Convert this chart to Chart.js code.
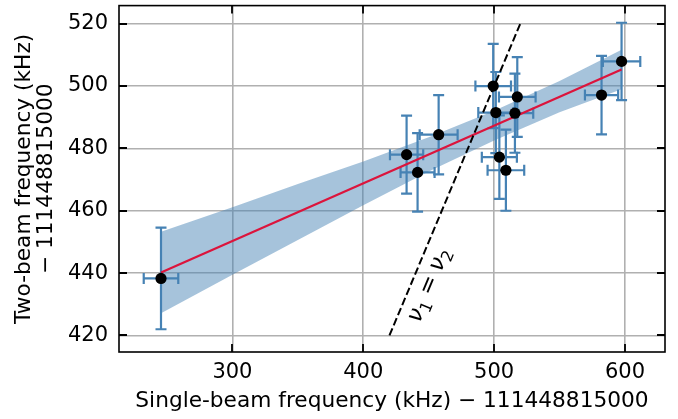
<!DOCTYPE html>
<html>
<head>
<meta charset="utf-8">
<script src="https://cdn.jsdelivr.net/npm/chart.js@4.4.1/dist/chart.umd.min.js"></script>
<style>
  html, body { margin: 0; padding: 0; background: #fff; }
  canvas { display: block; }
</style>
</head>
<body>
<canvas id="chart" width="678" height="419"></canvas>
<script>
// measurements (kHz, offsets from 111448815000)
const singleBeam = [245.4, 433.1, 441.5, 457.6, 499.3, 501.3, 504.0, 509.0, 517.7, 515.9, 582.1, 597.4];
const twoBeam    = [438.3, 478.0, 472.3, 484.4, 500.0, 491.5, 477.2, 473.0, 496.5, 491.3, 497.1, 507.9];
const singleErr  = [13.2, 12.7, 13.0, 14.5, 13.6, 13.4, 13.4, 14.0, 14.0, 14.0, 12.7, 14.3];
const twoErr     = [16.3, 12.5, 12.6, 12.7, 13.5, 13.0, 13.4, 13.0, 12.8, 12.7, 12.6, 12.4];

// linear fit and its uncertainty band
const fitX = [245.4, 597.4];
const fitY = [440.2, 505.3];
const bandX     = [245.4, 300, 350, 400, 450, 500, 550, 597.4];
const bandUpper = [453.3, 461.1, 468.6, 475.8, 483.6, 492.1, 501.6, 511.6];
const bandLower = [427.1, 439.5, 450.6, 461.8, 472.6, 482.5, 491.6, 499.0];

// nu1 = nu2 reference line
const diagX = [420, 520];
const diagY = [420, 520];
const diagLabelAt = [451.0, 436.0];

const xTicks = [300, 400, 500, 600];
const yTicks = [420, 440, 460, 480, 500, 520];

const toPts = (xs, ys) => xs.map((v, i) => ({ x: v, y: ys[i] }));

const errorBars = {
  id: 'errorBars',
  afterDatasetDraw(chart, args) {
    if (chart.data.datasets[args.index].label !== 'band upper') return;
    const { ctx, scales: { x, y } } = chart;
    const cap = 5.5;
    ctx.save();
    ctx.strokeStyle = '#4682b4';
    ctx.lineWidth = 2.2;
    singleBeam.forEach((xv, i) => {
      const px = x.getPixelForValue(xv), py = y.getPixelForValue(twoBeam[i]);
      const xl = x.getPixelForValue(xv - singleErr[i]), xr = x.getPixelForValue(xv + singleErr[i]);
      const yt = y.getPixelForValue(twoBeam[i] + twoErr[i]), yb = y.getPixelForValue(twoBeam[i] - twoErr[i]);
      ctx.beginPath();
      ctx.moveTo(px, yt); ctx.lineTo(px, yb);
      ctx.moveTo(xl, py); ctx.lineTo(xr, py);
      ctx.moveTo(px - cap, yt); ctx.lineTo(px + cap, yt);
      ctx.moveTo(px - cap, yb); ctx.lineTo(px + cap, yb);
      ctx.moveTo(xl, py - cap); ctx.lineTo(xl, py + cap);
      ctx.moveTo(xr, py - cap); ctx.lineTo(xr, py + cap);
      ctx.stroke();
    });
    ctx.restore();
  }
};

const diagLabel = {
  id: 'diagLabel',
  afterDatasetsDraw(chart) {
    const { ctx, scales: { x, y } } = chart;
    const ang = Math.atan2(
      y.getPixelForValue(diagY[1]) - y.getPixelForValue(diagY[0]),
      x.getPixelForValue(diagX[1]) - x.getPixelForValue(diagX[0]));
    const size = 23;
    const parts = [
      { t: 'ν', font: `italic ${size}px "DejaVu Sans"`, dy: 0, gap: 0 },
      { t: '1', font: `${size * 0.7}px "DejaVu Sans"`, dy: size * 0.22, gap: 0 },
      { t: '=', font: `${size}px "DejaVu Sans"`, dy: 0, gap: size * 0.28 },
      { t: 'ν', font: `italic ${size}px "DejaVu Sans"`, dy: 0, gap: size * 0.28 },
      { t: '2', font: `${size * 0.7}px "DejaVu Sans"`, dy: size * 0.22, gap: 0 }
    ];
    ctx.save();
    ctx.translate(x.getPixelForValue(diagLabelAt[0]), y.getPixelForValue(diagLabelAt[1]));
    ctx.rotate(ang);
    ctx.fillStyle = '#000';
    ctx.textBaseline = 'alphabetic';
    let w = 0;
    parts.forEach(p => { ctx.font = p.font; p.w = ctx.measureText(p.t).width; w += p.gap + p.w; });
    let cx = -w / 2;
    parts.forEach(p => {
      cx += p.gap;
      ctx.font = p.font;
      ctx.fillText(p.t, cx, size * 0.22 + p.dy);
      cx += p.w;
    });
    ctx.restore();
  }
};

// black frame with inward ticks on all four sides
const frame = {
  id: 'frame',
  afterDraw(chart) {
    const { ctx, chartArea: a, scales: { x, y } } = chart;
    const len = 8;
    ctx.save();
    ctx.strokeStyle = '#000';
    ctx.lineWidth = 1.8;
    ctx.beginPath();
    xTicks.forEach(v => {
      const px = Math.round(x.getPixelForValue(v));
      ctx.moveTo(px, a.bottom); ctx.lineTo(px, a.bottom - len);
      ctx.moveTo(px, a.top); ctx.lineTo(px, a.top + len);
    });
    yTicks.forEach(v => {
      const py = Math.round(y.getPixelForValue(v));
      ctx.moveTo(a.left, py); ctx.lineTo(a.left + len, py);
      ctx.moveTo(a.right, py); ctx.lineTo(a.right - len, py);
    });
    ctx.stroke();
    ctx.lineWidth = 1.6;
    ctx.strokeRect(a.left, a.top, a.right - a.left, a.bottom - a.top);
    ctx.restore();
  }
};

Chart.defaults.font.family = '"DejaVu Sans"';
Chart.defaults.color = '#000';

new Chart(document.getElementById('chart'), {
  type: 'scatter',
  data: {
    datasets: [
      {
        label: 'data',
        data: toPts(singleBeam, twoBeam),
        backgroundColor: '#000',
        borderWidth: 0,
        pointRadius: 5.6,
        order: 0
      },
      {
        label: 'nu1 = nu2',
        data: toPts(diagX, diagY),
        showLine: true,
        borderColor: '#000',
        borderWidth: 2,
        borderDash: [7.7, 3.3],
        pointRadius: 0,
        order: 1
      },
      {
        label: 'fit',
        data: toPts(fitX, fitY),
        showLine: true,
        borderColor: '#dc143c',
        borderWidth: 2.2,
        pointRadius: 0,
        order: 2
      },
      {
        label: 'band lower',
        data: toPts(bandX, bandLower),
        showLine: true,
        borderWidth: 0,
        borderColor: 'rgba(0,0,0,0)',
        pointRadius: 0,
        order: 5
      },
      {
        label: 'band upper',
        data: toPts(bandX, bandUpper),
        showLine: true,
        borderWidth: 0,
        borderColor: 'rgba(0,0,0,0)',
        backgroundColor: 'rgba(70, 130, 180, 0.48)',
        fill: 3,
        pointRadius: 0,
        order: 4
      }
    ]
  },
  options: {
    responsive: false,
    animation: false,
    devicePixelRatio: 1,
    events: [],
    layout: { padding: { top: 2, right: 13, left: 0, bottom: 0 } },
    plugins: {
      legend: { display: false },
      tooltip: { enabled: false }
    },
    scales: {
      x: {
        type: 'linear',
        min: 213.3,
        max: 630.6,
        afterBuildTicks: s => { s.ticks = xTicks.map(v => ({ value: v })); },
        afterFit: s => { s.height = 67; s.paddingLeft = 0; s.paddingRight = 0; },
        grid: { color: '#b0b0b0', lineWidth: 1.6, drawTicks: false },
        border: { display: false },
        ticks: { font: { size: 21 }, padding: 8, maxRotation: 0, callback: v => String(v) },
        title: {
          display: true,
          text: 'Single-beam frequency (kHz) − 111448815000',
          font: { size: 21.7 },
          padding: { top: 0, bottom: 5 }
        }
      },
      y: {
        type: 'linear',
        min: 414.7,
        max: 525.8,
        afterBuildTicks: s => { s.ticks = yTicks.map(v => ({ value: v })); },
        afterFit: s => { s.width = 119; s.paddingTop = 0; s.paddingBottom = 0; },
        grid: { color: '#b0b0b0', lineWidth: 1.6, drawTicks: false },
        border: { display: false },
        ticks: { font: { size: 21 }, padding: 11, callback: v => String(v) },
        title: {
          display: true,
          text: ['Two-beam frequency (kHz)', '− 111448815000'],
          font: { size: 21.7, lineHeight: 1.0 },
          padding: { top: 14, bottom: 0 }
        }
      }
    }
  },
  plugins: [errorBars, diagLabel, frame]
});
</script>
</body>
</html>
